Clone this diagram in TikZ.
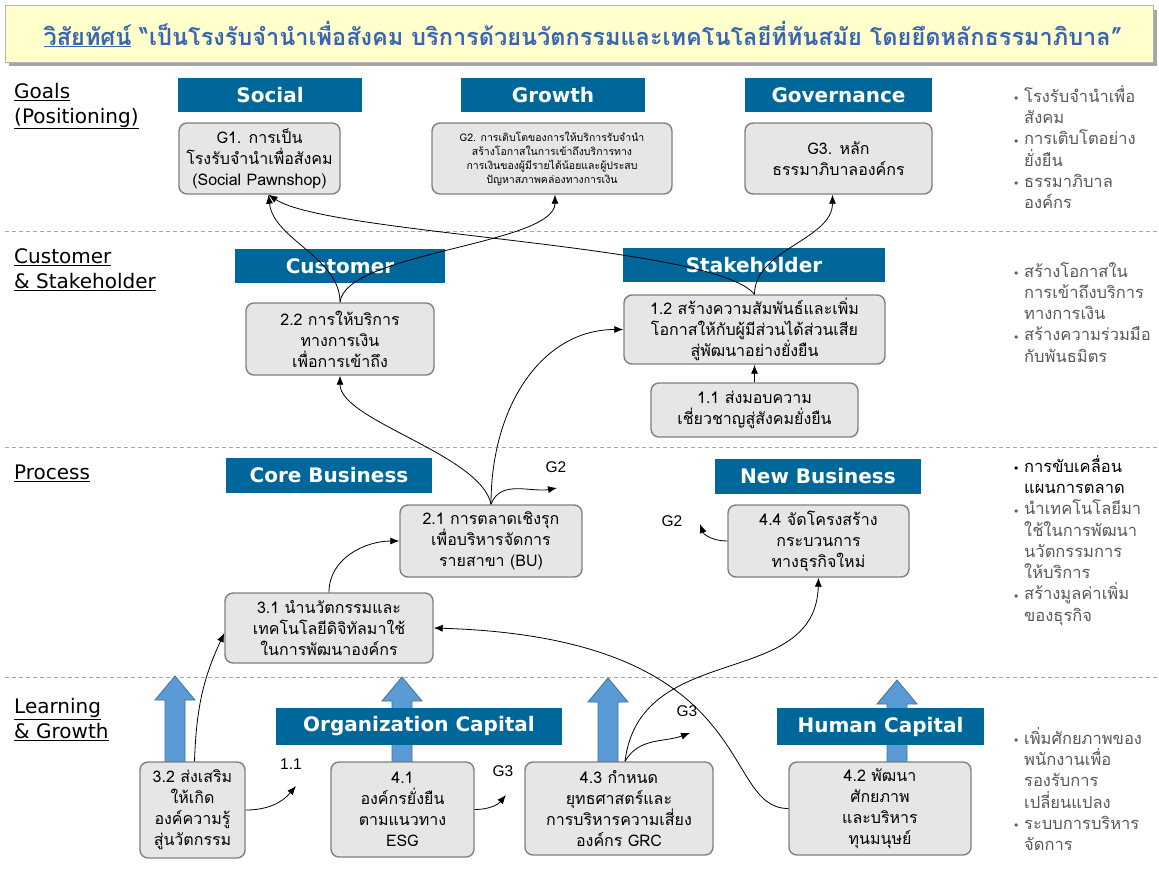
\documentclass[tikz,border=0pt]{standalone}
\usepackage{fontspec}
\setmainfont{Loma}[Script=Thai]
\newfontfamily\latinfont{DejaVu Sans}
\newfontfamily\arialfont{Liberation Sans}
\usetikzlibrary{arrows.meta}
\definecolor{bandblue}{RGB}{0,103,155}
\definecolor{boxgray}{RGB}{230,230,230}
\definecolor{edgegray}{RGB}{128,128,128}
\definecolor{arrowblue}{RGB}{91,155,213}
\definecolor{arrowedge}{RGB}{65,113,156}
\definecolor{titleblue}{RGB}{58,100,180}
\definecolor{titlefill}{RGB}{255,255,204}
\definecolor{notegray}{RGB}{89,89,89}
\definecolor{sepgray}{RGB}{166,166,166}

\newcommand{\blt}{\makebox[10pt][l]{\raisebox{.2ex}{$\scriptscriptstyle\bullet$}}}
\newcommand{\ind}{\hspace*{10pt}}

\tikzset{
  banner/.style={fill=bandblue, text=white, font=\latinfont\bfseries\fontsize{20}{24}\selectfont,
    inner sep=0pt, minimum height=34},
  stepbox/.style={draw=edgegray, line width=1.4pt, fill=boxgray, rounded corners=8pt,
    align=center, inner sep=2pt, font=\fontsize{16}{21}\selectfont},
  link/.style={-{Latex[length=9pt,width=7pt]}, line width=0.8pt},
  tag/.style={font=\arialfont\fontsize{15.5}{17}\selectfont, inner sep=1pt},
  rowlabel/.style={anchor=west, align=left, font=\latinfont\fontsize{20}{25}\selectfont, inner sep=0pt},
  notes/.style={anchor=north west, align=left, text=notegray, font=\fontsize{16.5}{21.3}\selectfont, inner sep=0pt},
  bigarrow/.style={fill=arrowblue, draw=arrowedge, line width=0.8pt},
}

\begin{document}
\begin{tikzpicture}[x=1pt, y=1pt]
\useasboundingbox (0,0) rectangle (1159,-868);
\fill[white] (0,0) rectangle (1159,-868);

% ---- vision banner ----
\fill[black!35] (9,-10) rectangle (1157,-66);
\draw[black!30, fill=titlefill] (5,-5) rectangle (1153,-62);
\node[font=\bfseries\fontsize{23.5}{28}\selectfont, text=titleblue] (vision) at (583,-34)
  {\underline{วิสัยทัศน์} ``เป็นโรงรับจำนำเพื่อสังคม บริการด้วยนวัตกรรมและเทคโนโลยีที่ทันสมัย โดยยึดหลักธรรมาภิบาล''};

% ---- row separators ----
\foreach \ly in {231,447,677}{
  \draw[sepgray, dash pattern=on 4pt off 3pt, line width=0.6pt] (5,-\ly) -- (1159,-\ly);
}

% ---- row labels ----
\node[rowlabel] (lgoal) at (14,-106) {\underline{Goals}\\\underline{(Positioning)}};
\node[rowlabel] (lcust) at (14,-270) {\underline{Customer}\\\underline{\& Stakeholder}};
\node[rowlabel] (lproc) at (14,-473) {\underline{Process}};
\node[rowlabel] (llearn) at (14,-720) {\underline{Learning}\\\underline{\& Growth}};

% ---- block arrows (learning -> process) ----
\foreach \ax/\at in {175/676,402/677,608/678,897/680}{
  \draw[bigarrow] (\ax-10,-762) -- (\ax-10,-\at-24) -- (\ax-20,-\at-24) -- (\ax,-\at)
    -- (\ax+20,-\at-24) -- (\ax+10,-\at-24) -- (\ax+10,-762) -- cycle;
}

% ---- perspective banners ----
\node[banner, minimum width=184] (bsoc) at (270,-95) {Social};
\node[banner, minimum width=184] (bgro) at (553,-95) {Growth};
\node[banner, minimum width=187] (bgov) at (838.5,-95) {Governance};
\node[banner, minimum width=210] (bcus) at (340,-266) {Customer};
\node[banner, minimum width=262] (bsta) at (754,-265) {Stakeholder};
\node[banner, minimum width=206, minimum height=35] (bcore) at (329,-475.5) {Core Business};
\node[banner, minimum width=206, minimum height=35] (bnew) at (818,-476.5) {New Business};
\node[banner, minimum width=286, minimum height=37] (borg) at (419,-726.5) {Organization Capital};
\node[banner, minimum width=207, minimum height=37] (bhum) at (880.5,-726.5) {Human Capital};

% ---- goals ----
\node[stepbox, minimum width=161, minimum height=71] (g1) at (259.5,-158.5)
  {G1. การเป็น\\โรงรับจำนำเพื่อสังคม\\(Social Pawnshop)};
\node[stepbox, minimum width=240, minimum height=71, font=\fontsize{10.5}{14}\selectfont] (g2) at (552,-158.5)
  {G2. การเติบโตของการให้บริการรับจำนำ\\สร้างโอกาสในการเข้าถึงบริการทาง\\การเงินของผู้มีรายได้น้อยและผู้ประสบ\\ปัญหาสภาพคล่องทางการเงิน};
\node[stepbox, minimum width=187, minimum height=71] (g3) at (838.5,-158.5)
  {G3. หลัก\\ธรรมาภิบาลองค์กร};

% ---- customer & stakeholder ----
\node[stepbox, minimum width=188, minimum height=72] (n22) at (340,-339)
  {2.2 การให้บริการ\\ทางการเงิน\\เพื่อการเข้าถึง};
\node[stepbox, minimum width=261, minimum height=69] (n12) at (754.5,-329.5)
  {1.2 สร้างความสัมพันธ์และเพิ่ม\\โอกาสให้กับผู้มีส่วนได้ส่วนเสีย\\สู่พัฒนาอย่างยั่งยืน};
\node[stepbox, minimum width=207, minimum height=54] (n11) at (754.5,-410)
  {1.1 ส่งมอบความ\\เชี่ยวชาญสู่สังคมยั่งยืน};

% ---- process ----
\node[stepbox, minimum width=182, minimum height=72] (n21) at (491,-541)
  {2.1 การตลาดเชิงรุก\\เพื่อบริหารจัดการ\\รายสาขา (BU)};
\node[stepbox, minimum width=181, minimum height=72] (n44) at (818.5,-541)
  {4.4 จัดโครงสร้าง\\กระบวนการ\\ทางธุรกิจใหม่};
\node[stepbox, minimum width=208, minimum height=70] (n31) at (329,-628)
  {3.1 นำนวัตกรรมและ\\เทคโนโลยีดิจิทัลมาใช้\\ในการพัฒนาองค์กร};

% ---- learning & growth ----
\node[stepbox, minimum width=105, minimum height=96] (n32) at (192.5,-810)
  {3.2 ส่งเสริม\\ให้เกิด\\องค์ความรู้\\สู่นวัตกรรม};
\node[stepbox, minimum width=143, minimum height=95] (n41) at (402.5,-809.5)
  {4.1\\องค์กรยั่งยืน\\ตามแนวทาง\\ESG};
\node[stepbox, minimum width=188, minimum height=93] (n43) at (619,-808.5)
  {4.3 กำหนด\\ยุทธศาสตร์และ\\การบริหารความเสี่ยง\\องค์กร GRC};
\node[stepbox, minimum width=182, minimum height=93] (n42) at (880,-808.5)
  {4.2 พัฒนา\\ศักยภาพ\\และบริหาร\\ทุนมนุษย์};

% ---- goal tags ----
\node[tag] (t11) at (291,-764) {1.1};
\coordinate (t11tip) at (296,-786);
\node[tag] (t3a) at (503,-771) {G3};
\coordinate (t3atip) at (506,-795);
\node[tag] (t3b) at (687,-711) {G3};
\coordinate (t3btip) at (690,-733);
\node[tag] (t2a) at (556,-467) {G2};
\coordinate (t2atip) at (557,-488);
\node[tag] (t2b) at (672,-521) {G2};
\coordinate (t2btip) at (700,-524);

% ---- links ----
\draw[link] (n22.north) .. controls +(0,45) and +(5,-45) .. ([xshift=9pt]g1.south);
\draw[link] (n22.north) .. controls +(5,50) and +(0,-50) .. ([xshift=3pt]g2.south);
\draw[link] (n12.north) .. controls +(-40,50) and +(60,-40) .. ([xshift=9pt]g1.south);
\draw[link] (n12.north) .. controls +(0,45) and +(0,-45) .. ([xshift=-6pt]g3.south);
\draw[link] (n11.north) -- (n12.south);
\draw[link] (n21.north) .. controls +(-10,50) and +(0,-45) .. (n22.south);
\draw[link] (n21.north) .. controls +(0,100) and +(-80,0) .. (n12.west);
\draw[link] (n21.north) to[out=70,in=190] (t2atip);
\draw[link] (n44.west) to[out=180,in=-70] (t2btip);
\draw[link] (n31.north) to[out=90,in=180] (n21.west);
\draw[link] ([xshift=2pt]n32.north) to[out=88,in=-115] ([yshift=-5pt]n31.west);
\draw[link] (n32.east) to[out=0,in=-130] (t11tip);
\draw[link] (n41.east) to[out=0,in=-130] (t3atip);
\draw[link] ([xshift=6pt]n43.north) to[out=60,in=200] (t3btip);
\draw[link] ([xshift=6pt]n43.north) .. controls +(15,122) and +(-3,-113) .. (n44.south);
\draw[link] (n42.west) .. controls +(-70,0) and +(330,-10) .. (n31.east);

% ---- notes on the right ----
\node[notes] (ngoal) at (1014,-85)
  {\blt โรงรับจำนำเพื่อ\\\ind สังคม\\\blt การเติบโตอย่าง\\\ind ยั่งยืน\\\blt ธรรมาภิบาล\\\ind องค์กร};
\node[notes] (ncust) at (1014,-262)
  {\blt สร้างโอกาสใน\\\ind การเข้าถึงบริการ\\\ind ทางการเงิน\\\blt สร้างความร่วมมือ\\\ind กับพันธมิตร};
\node[notes] (nproc) at (1014,-455)
  {\textcolor{black}{\blt การขับเคลื่อน}\\\ind\textcolor{black}{แผนการตลาด}\\\blt นำเทคโนโลยีมา\\\ind ใช้ในการพัฒนา\\\ind นวัตกรรมการ\\\ind ให้บริการ\\\blt สร้างมูลค่าเพิ่ม\\\ind ของธุรกิจ};
\node[notes] (nlearn) at (1014,-727)
  {\blt เพิ่มศักยภาพของ\\\ind พนักงานเพื่อ\\\ind รองรับการ\\\ind เปลี่ยนแปลง\\\blt ระบบการบริหาร\\\ind จัดการ};
\end{tikzpicture}
\end{document}
